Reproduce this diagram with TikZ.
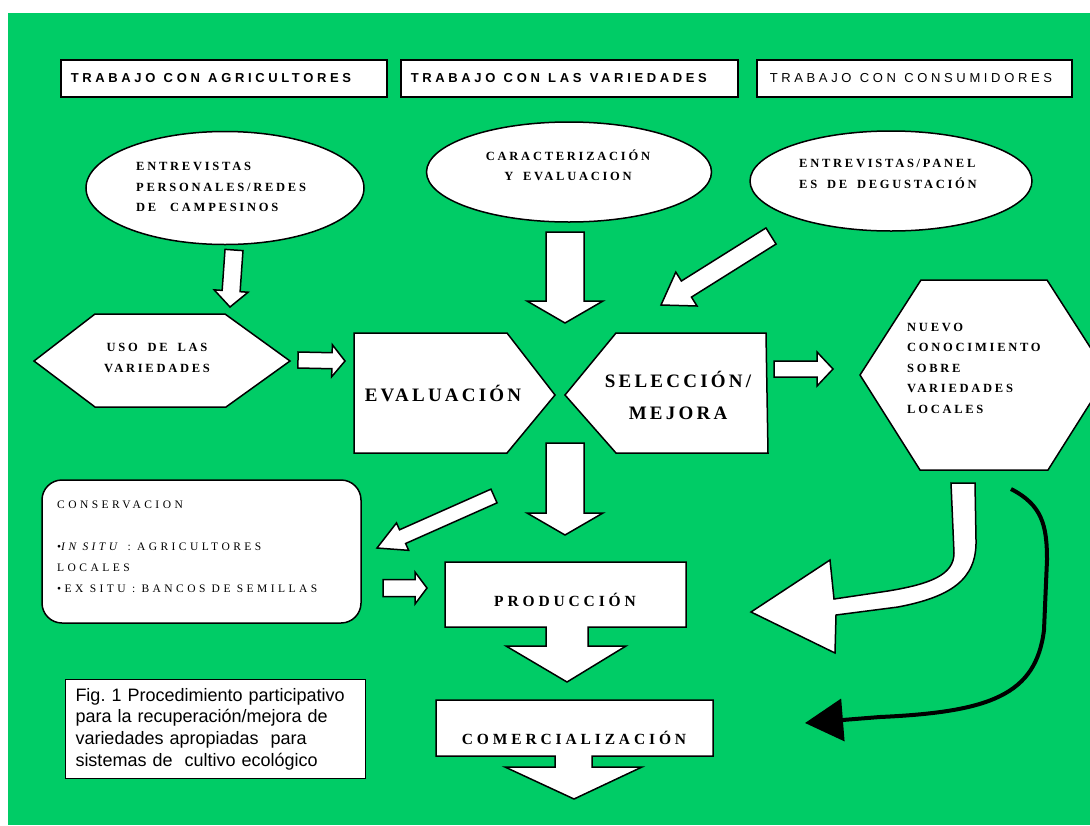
\documentclass[tikz,border=0pt]{standalone}
\usepackage{fontspec}
\setmainfont{Liberation Serif}
\newfontfamily\hdsans[LetterSpace=28]{Liberation Sans}
\newfontfamily\capsans{Liberation Sans}
\newfontfamily\smserif[LetterSpace=22]{Liberation Serif}
\newfontfamily\cnserif[LetterSpace=30]{Liberation Serif}
\newfontfamily\bgserif[LetterSpace=17]{Liberation Serif}
\newfontfamily\mdserif[LetterSpace=25]{Liberation Serif}
\usepackage{tikz}
\usetikzlibrary{shapes.geometric,calc,arrows.meta}
\definecolor{bggreen}{RGB}{0,204,102}
\newcommand{\wsp}{\hspace{4pt}}

\tikzset{
  shapeline/.style={draw=black, fill=white, line width=1.5pt, line join=miter},
  hdbox/.style={shapeline, anchor=north west, minimum height=37pt, inner xsep=10pt, align=left},
  smtext/.style={font=\smserif\fontsize{12.5}{20.5}\selectfont\bfseries, align=left, inner sep=0pt},
  bgtext/.style={font=\bgserif\fontsize{19}{32}\selectfont\bfseries, align=center, inner sep=0pt},
  mdtext/.style={font=\mdserif\fontsize{15.5}{20}\selectfont\bfseries, inner sep=0pt}
}

% flecha de bloque: origen, punta, medio ancho, medio ancho punta, largo punta
\newcommand{\blockarr}[5]{%
  \coordinate (ba-h) at ($(#2)!#5pt!(#1)$);
  \draw[shapeline] ($(#1)!#3pt!90:(#2)$) -- ($(ba-h)!#3pt!90:(#2)$) -- ($(ba-h)!#4pt!90:(#2)$)
    -- (#2) -- ($(ba-h)!#4pt!-90:(#2)$) -- ($(ba-h)!#3pt!-90:(#2)$) -- ($(#1)!#3pt!-90:(#2)$) -- cycle;
}

\begin{document}
\begin{tikzpicture}[x=1pt,y=-1pt]
\useasboundingbox (0,0) rectangle (1090,825);
\fill[white] (0,0) rectangle (1090,825);
\fill[bggreen] (8,13) rectangle (1090,825);

% cabeceras
\node[hdbox, minimum width=326pt, text width=306pt, font=\hdsans\fontsize{13}{15}\selectfont\bfseries] (agric) at (60,59) {TRABAJO\wsp{} CON\wsp{} AGRICULTORES};
\node[hdbox, minimum width=337pt, text width=317pt, font=\hdsans\fontsize{13}{15}\selectfont\bfseries] (varied) at (400,59) {TRABAJO\wsp{} CON\wsp{} LAS\wsp{} VARIEDADES};
\node[hdbox, minimum width=315pt, text width=289pt, inner xsep=13pt, font=\hdsans\fontsize{13}{15}\selectfont] (consum) at (756,59) {TRABAJO\wsp{} CON\wsp{} CONSUMIDORES};

% elipses
\node[shapeline, ellipse, minimum width=278pt, minimum height=113pt] (entrev) at (225,188) {};
\node[smtext, anchor=west] (entrev-txt) at (136,187) {ENTREVISTAS\\PERSONALES/REDES\\DE\wsp{}\wsp{} CAMPESINOS};
\node[shapeline, ellipse, minimum width=285pt, minimum height=100pt] (caract) at (569,172) {};
\node[smtext, align=center] (caract-txt) at (568,165) {CARACTERIZACIÓN\\Y\wsp{} EVALUACION};
\node[shapeline, ellipse, minimum width=282pt, minimum height=100pt] (panel) at (891,181) {};
\node[smtext, anchor=west] (panel-txt) at (799,174) {ENTREVISTAS/PANEL\\ES\wsp{} DE\wsp{} DEGUSTACIÓN};

% formas centrales
\draw[shapeline] (34,361) -- (95,314) -- (225,314) -- (290,361) -- (226,407) -- (95,407) -- cycle;
\node[smtext, align=center] (uso) at (157,358) {USO\wsp{} DE\wsp{} LAS\\VARIEDADES};
\draw[shapeline] (354,333) -- (507,333) -- (555,395) -- (507,453) -- (354,453) -- cycle;
\node[bgtext] (eval) at (443,393) {EVALUACIÓN};
\draw[shapeline] (565,395) -- (616,333) -- (766,333) -- (768,453) -- (616,453) -- cycle;
\node[bgtext] (sel) at (678,395) {SELECCIÓN/\\MEJORA};
\draw[shapeline] (860,375) -- (921,280) -- (1047,280) -- (1108,375) -- (1048,470) -- (920,470) -- cycle;
\node[smtext, anchor=west] (nuevo) at (907,368) {NUEVO\\CONOCIMIENTO\\SOBRE\\VARIEDADES\\LOCALES};

% conservacion
\draw[shapeline, rounded corners=20pt] (42,480) rectangle (361,623);
\node[smtext, font=\cnserif\fontsize{11.5}{21}\selectfont, anchor=west] (cons) at (57,547)
  {CONSERVACION\\[21pt]•\textit{IN SITU} : AGRICULTORES\\LOCALES\\•EX SITU : BANCOS DE SEMILLAS};

% produccion y comercializacion
\draw[shapeline] (445,562) -- (686,562) -- (686,627) -- (588,627) -- (588,646) -- (626,646) -- (567,682)
  -- (506,646) -- (546,646) -- (546,627) -- (445,627) -- cycle;
\node[mdtext] (prod) at (565,600) {PRODUCCIÓN};
\draw[shapeline] (436,700) -- (713,700) -- (713,756) -- (592,756) -- (592,767) -- (642,767) -- (574,799)
  -- (505,767) -- (555,767) -- (555,756) -- (436,756) -- cycle;
\node[mdtext] (comerc) at (574,738) {COMERCIALIZACIÓN};

% pie de figura
\node[draw, fill=white, line width=1pt, anchor=north west, minimum height=99pt, text width=280pt,
  inner xsep=10pt, align=left, font=\capsans\fontsize{18}{21.7}\selectfont] (figbox) at (65,679)
  {Fig.\ 1 Procedimiento participativo\\para la recuperación/mejora de\\variedades apropiadas\ \ para\\sistemas de\ \ cultivo ecológico};

% flechas
\coordinate (entrev-out) at (234,250); \coordinate (uso-in) at (230,307);
\coordinate (caract-out) at (565,232); \coordinate (cruce-in) at (565,323);
\coordinate (panel-out) at (771,236); \coordinate (sel-in) at (661,305);
\coordinate (uso-out) at (298,360); \coordinate (eval-in) at (345,361);
\coordinate (sel-out) at (774,369); \coordinate (nuevo-in) at (833,369);
\coordinate (cruce-out) at (565,443); \coordinate (prod-in) at (565,535);
\coordinate (eval-out) at (494,496); \coordinate (cons-in) at (377,548);
\coordinate (cons-out) at (383,588); \coordinate (prod-left) at (427,588);
\blockarr{entrev-out}{uso-in}{9}{17}{16}
\blockarr{caract-out}{cruce-in}{19}{38}{22}
\blockarr{panel-out}{sel-in}{9.5}{20}{30}
\blockarr{uso-out}{eval-in}{8}{16}{13}
\blockarr{sel-out}{nuevo-in}{8}{17}{16}
\blockarr{cruce-out}{prod-in}{19}{38}{22}
\blockarr{eval-out}{cons-in}{7.5}{15}{28}
\blockarr{cons-out}{prod-left}{8.5}{16}{12}

% flecha curva blanca
\draw[shapeline] (951,483) -- (954,553) .. controls (954,575) and (930,584) .. (888,591) -- (834,599)
  -- (830,560) -- (751,612) -- (835,653) -- (836,615) -- (898,607)
  .. controls (950,597) and (977,580) .. (976,540) -- (975,483) -- cycle;

% flecha curva negra
\coordinate (nuevo-out) at (1011,489); \coordinate (comerc-in) at (805,723);
\draw[line width=4pt, -{Triangle[length=38pt,width=42pt]}] (nuevo-out) .. controls (1042,505) and (1047,525) .. (1047,560)
  -- (1044,630) .. controls (1036,695) and (990,712) .. (880,717) -- (comerc-in);
\end{tikzpicture}
\end{document}
